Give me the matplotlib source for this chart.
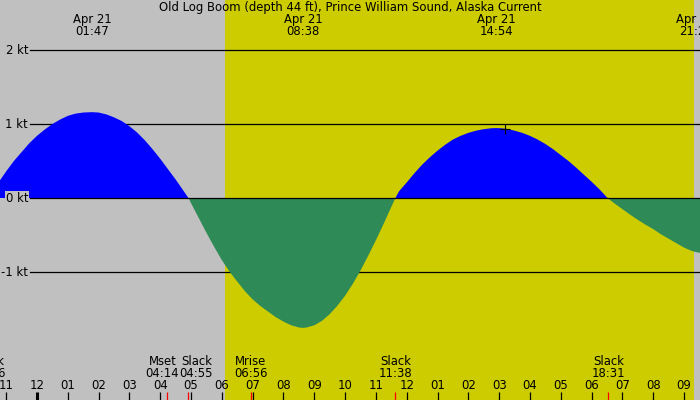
import matplotlib
matplotlib.use("Agg")
import matplotlib.pyplot as plt
import matplotlib.transforms as mtrans
import numpy as np

# ---------------- data (hours from midnight, Apr 21) ----------------
title = "Old Log Boom (depth 44 ft), Prince William Sound, Alaska Current"

times = [-1.567, -1.5, -1.25, -1.0, -0.75, -0.5, -0.25, 0.0, 0.25, 0.5, 0.75,
         1.0, 1.25, 1.5, 1.783, 2.0, 2.25, 2.5, 2.75, 3.0, 3.25, 3.5, 3.75,
         4.0, 4.25, 4.5, 4.75, 4.917, 5.0, 5.25, 5.5, 5.75, 6.0, 6.25, 6.5,
         6.75, 7.0, 7.25, 7.5, 7.75, 8.0, 8.25, 8.5, 8.633, 8.75, 9.0, 9.25,
         9.5, 9.75, 10.0, 10.25, 10.5, 10.75, 11.0, 11.25, 11.5, 11.633,
         11.75, 12.0, 12.25, 12.5, 12.75, 13.0, 13.25, 13.5, 13.75, 14.0,
         14.25, 14.5, 14.75, 14.9, 15.0, 15.25, 15.5, 15.75, 16.0, 16.25,
         16.5, 16.75, 17.0, 17.25, 17.5, 17.75, 18.0, 18.25, 18.517, 18.75,
         19.0, 19.25, 19.5, 19.75, 20.0, 20.25, 20.5, 20.75, 21.0, 21.25,
         21.383, 21.5, 21.75, 22.0]
speeds = [0.0, 0.04, 0.21, 0.36, 0.50, 0.62, 0.74, 0.84, 0.925, 1.00, 1.06,
          1.11, 1.14, 1.155, 1.16, 1.155, 1.13, 1.09, 1.04, 0.97, 0.885, 0.78, 0.66,
          0.53, 0.39, 0.25, 0.10, 0.0, -0.07, -0.27, -0.47, -0.66, -0.84, -0.995, -1.13,
          -1.26, -1.37, -1.46, -1.535, -1.61, -1.67, -1.72, -1.75, -1.755, -1.75, -1.72, -1.66,
          -1.57, -1.455, -1.32, -1.16, -0.98, -0.78, -0.57, -0.35, -0.12, 0.0,
          0.09, 0.21, 0.335, 0.45, 0.55, 0.64, 0.72, 0.79, 0.84, 0.88,
          0.91, 0.93, 0.943, 0.945, 0.944, 0.935, 0.91, 0.88, 0.84, 0.79,
          0.73, 0.66, 0.58, 0.50, 0.41, 0.315, 0.22, 0.12, 0.0, -0.075,
          -0.15, -0.225, -0.295, -0.36, -0.42, -0.49, -0.55, -0.61, -0.67, -0.715,
          -0.73, -0.74, -0.75, -0.745]

sunrise = 6.10
sunset = 21.32

peak_date = "Apr 21"
peak_times = [1.783, 8.633, 14.9, 21.383]
peak_labels = ["01:47", "08:38", "14:54", "21:23"]

event_times = [-1.567, 4.233, 4.917, 6.933, 11.633, 18.517]
event_names = ["Slack", "Mset", "Slack", "Mrise", "Slack", "Slack"]
event_labels = ["22:26", "04:14", "04:55", "06:56", "11:38", "18:31"]
event_shift_px = [0, -5, 8, 0, 0, 1]

hour_ticks = list(range(-1, 22))
hour_labels = ["11", "12", "01", "02", "03", "04", "05", "06", "07", "08", "09",
               "10", "11", "12", "01", "02", "03", "04", "05", "06", "07", "08", "09"]
midnight = 0

ytick_vals = [2, 1, 0, -1]
ytick_labels = ["2 kt", "1 kt", "0 kt", "-1 kt"]

mark_time = 15.19
mark_speed = 0.93

# ---------------- figure ----------------
W, H = 700, 400
fig = plt.figure(figsize=(7, 4), dpi=100)
ax = fig.add_axes([0, 0, 1, 1])
ax.set_axis_off()

px_per_hr = 30.81
x_mid = 37.0
xmin = (0 - x_mid) / px_per_hr
xmax = (W - x_mid) / px_per_hr
ax.set_xlim(xmin, xmax)
px_per_kt = 74.0
y_zero = 198.0
ax.set_ylim((y_zero - H) / px_per_kt, y_zero / px_per_kt)

GRAY = "#c0c0c0"
YEL = "#cccc00"
ax.axvspan(xmin, sunrise, color=GRAY, lw=0, zorder=0)
ax.axvspan(sunrise, sunset, color=YEL, lw=0, zorder=0)
ax.axvspan(sunset, xmax, color=GRAY, lw=0, zorder=0)

fs = 8.4
for v, lab in zip(ytick_vals, ytick_labels):
    ax.axhline(v, xmin=30 / W, xmax=1, color="black", lw=0.9,
               zorder=3 if v == 0 else 1)
    ax.text(28 / W, v, lab, transform=ax.get_yaxis_transform(),
            ha="right", va="center", fontsize=fs, color="black", zorder=4,
            bbox=dict(facecolor=GRAY, edgecolor="none", pad=0.5) if v == 0 else None)

t = np.array(times)
s = np.array(speeds)
ax.fill_between(t, 0, s, where=s >= 0, interpolate=True, color="#0000ff",
                lw=0, zorder=2)
ax.fill_between(t, 0, s, where=s <= 0, interpolate=True, color="#2e8b57",
                lw=0, zorder=2)

ax.plot([mark_time], [mark_speed], marker="+", color="black", ms=6.5,
        mew=0.8, zorder=5)

tr = mtrans.blended_transform_factory(ax.transData, fig.transFigure)

def fy(ypix):
    return 1 - ypix / H

fig.text(0.5, fy(7.5), title, ha="center", va="center", fontsize=fs)
for pt, pl in zip(peak_times, peak_labels):
    ax.text(pt, fy(20), peak_date, transform=tr, ha="center", va="center",
            fontsize=fs, zorder=6)
    ax.text(pt, fy(31.5), pl, transform=tr, ha="center", va="center",
            fontsize=fs, zorder=6)

for et, en, el, sh in zip(event_times, event_names, event_labels, event_shift_px):
    off = mtrans.offset_copy(tr, fig=fig, x=sh, y=0, units="dots")
    ax.text(et, fy(361.5), en, transform=off, ha="center", va="center",
            fontsize=fs, zorder=6)
    ax.text(et, fy(373.5), el, transform=off, ha="center", va="center",
            fontsize=fs, zorder=6)
    ax.vlines(et, fy(400), fy(392), transform=tr, color="red", lw=0.9, zorder=6)

for ht, hl in zip(hour_ticks, hour_labels):
    ax.text(ht, fy(385.5), hl, transform=tr, ha="center", va="center",
            fontsize=fs, zorder=6)
    ax.vlines(ht, fy(400), fy(392), transform=tr, color="black",
              lw=2.2 if ht == midnight else 0.9, zorder=6)

fig.savefig("out.png", dpi=100)
